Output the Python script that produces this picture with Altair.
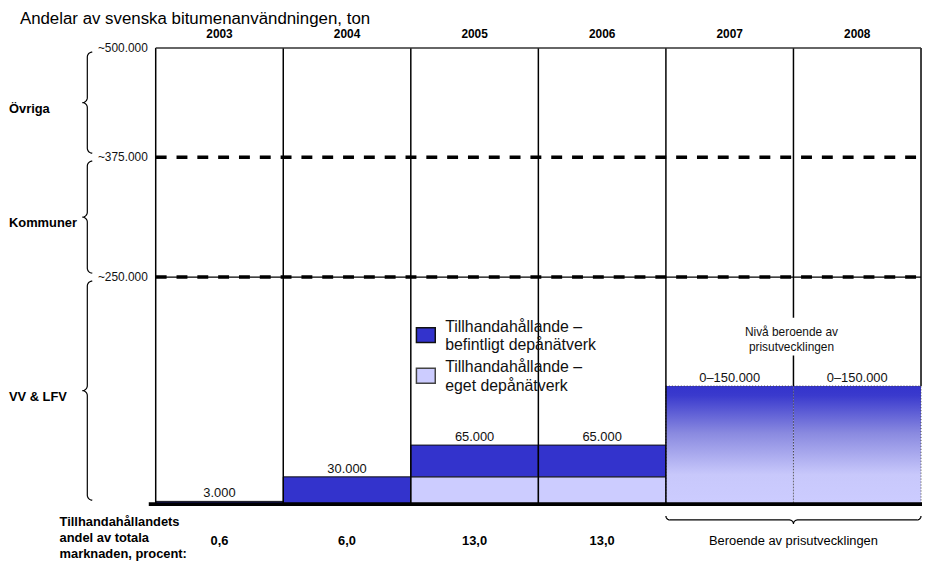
import math
import altair as alt
import pandas as pd

# ---------------- data ----------------
years = ["2003", "2004", "2005", "2006", "2007", "2008"]
befintligt = [3000, 30000, 35000, 35000]          # dark part, 2003-2006
eget = [0, 0, 30000, 30000]                        # light part, 2003-2006
total_labels = ["3.000", "30.000", "65.000", "65.000", "0–150.000", "0–150.000"]
range_years = ["2007", "2008"]
range_height = [130000, 130000]                    # visual height of the 0–150.000 bars
andel = ["0,6", "6,0", "13,0", "13,0"]
andel_range_text = "Beroende av prisutvecklingen"
level_values = [250000, 375000, 500000]
level_labels = ["~250.000", "~375.000", "~500.000"]
segments = ["VV & LFV", "Kommuner", "Övriga"]
seg_lo = [0, 250000, 375000]
seg_hi = [250000, 375000, 500000]
legend_labels = ["Tillhandahållande –\nbefintligt depånätverk",
                 "Tillhandahållande –\neget depånätverk"]
range_note = "Nivå beroende av\nprisutvecklingen"
title_text = "Andelar av svenska bitumenanvändningen, ton"
bottom_label = "Tillhandahållandets\nandel av totala\nmarknaden, procent:"

DARK = "#3333cc"
LIGHT = "#ccccff"
FONT = "Liberation Sans"

W, H = 922, 560
X_DOM, X_RNG = [0, 6], [149, 921]
Y_DOM, Y_RNG = [0, 250000, 375000, 500000], [498, 269, 148, 38]

xs = alt.Scale(domain=X_DOM, range=X_RNG, nice=False, zero=False)
ys = alt.Scale(domain=Y_DOM, range=Y_RNG, nice=False, zero=False)


def px_to_u(px):
    return X_DOM[0] + (px - X_RNG[0]) * (X_DOM[1] - X_DOM[0]) / (X_RNG[1] - X_RNG[0])


def u_to_px(u):
    return X_RNG[0] + (u - X_DOM[0]) * (X_RNG[1] - X_RNG[0]) / (X_DOM[1] - X_DOM[0])


def _seg(vals, x):
    n = len(vals)
    inc = vals[-1] > vals[0]
    for i in range(n - 1):
        a, b = vals[i], vals[i + 1]
        if min(a, b) <= x <= max(a, b):
            return i
    if (x < vals[0]) == inc:
        return 0
    return n - 2


def v_to_py(v):
    i = _seg(Y_DOM, v)
    d0, d1, r0, r1 = Y_DOM[i], Y_DOM[i + 1], Y_RNG[i], Y_RNG[i + 1]
    return r0 + (v - d0) * (r1 - r0) / (d1 - d0)


def py_to_v(py):
    i = _seg(Y_RNG, py)
    d0, d1, r0, r1 = Y_DOM[i], Y_DOM[i + 1], Y_RNG[i], Y_RNG[i + 1]
    return d0 + (py - r0) * (d1 - d0) / (r1 - r0)


def arc(cx, cy, r, a0, a1, n=8):
    pts = []
    for k in range(n + 1):
        a = math.radians(a0 + (a1 - a0) * k / n)
        pts.append((cx + r * math.cos(a), cy + r * math.sin(a)))
    return pts


def vbrace(y0, y1, xb, r):
    ym = (y0 + y1) / 2
    p = []
    p += arc(xb + r, y0 + r, r, 270, 180)
    p += arc(xb - r, ym - r, r, 0, 90)
    p += arc(xb - r, ym + r, r, -90, 0)
    p += arc(xb + r, y1 - r, r, 180, 90)
    return p


def hbrace(x0, x1, yb, r):
    xm = (x0 + x1) / 2
    p = []
    p += arc(x0 + r, yb - r, r, 180, 90)
    p += arc(xm - r, yb + r, r, -90, 0)
    p += arc(xm + r, yb + r, r, 180, 270)
    p += arc(x1 - r, yb - r, r, 90, 0)
    return p


# ---------------- tables ----------------
bar_rows = []
for i in range(4):
    if eget[i] > 0:
        bar_rows.append(dict(year=years[i], u0=i, u1=i + 1, v0=0, v1=eget[i], kind="eget"))
    bar_rows.append(dict(year=years[i], u0=i, u1=i + 1, v0=eget[i], v1=eget[i] + befintligt[i], kind="befintligt"))
bars_df = pd.DataFrame(bar_rows)

range_df = pd.DataFrame(dict(year=range_years,
                             u0=[years.index(y) for y in range_years],
                             u1=[years.index(y) + 1 for y in range_years],
                             v0=[0, 0], v1=range_height))

tops = [eget[i] + befintligt[i] for i in range(4)] + range_height
lab_df = pd.DataFrame(dict(u=[i + 0.5 for i in range(6)], v=tops, t=total_labels))
year_df = pd.DataFrame(dict(u=[i + 0.5 for i in range(6)], t=years))
andel_df = pd.DataFrame(dict(u=[i + 0.5 for i in range(4)], t=andel))

col_df = pd.DataFrame(dict(u=list(range(7)), vt=[500000] * 7,
                           vb=[0, 0, 0, 0, 0] + range_height))
top_df = pd.DataFrame(dict(u0=[0], u1=[6], v=[level_values[2]]))
dash_df = pd.DataFrame(dict(u0=[0, 0], u1=[6, 6], v=level_values[:2]))
thin_df = pd.DataFrame(dict(u0=[0], u1=[6], v=[level_values[0]]))
base_df = pd.DataFrame(dict(u0=[px_to_u(142)], u1=[6.02], v=[0]))
tick_df = pd.DataFrame(dict(u=[0] * 3, v=level_values, t=level_labels))
seg_df = pd.DataFrame(dict(v=[(a + b) / 2 for a, b in zip(seg_lo, seg_hi)], t=segments))

brace_rows = []
for s, lo, hi in zip(segments, seg_lo, seg_hi):
    pts = vbrace(v_to_py(hi) + 4, v_to_py(lo) - 4, 80, 5)
    for k, (x, y) in enumerate(pts):
        brace_rows.append(dict(b=s, o=k, u=px_to_u(x), v=py_to_v(y)))
hpts = hbrace(u_to_px(4), u_to_px(6), 514, 4)
for k, (x, y) in enumerate(hpts):
    brace_rows.append(dict(b="range", o=k, u=px_to_u(x), v=py_to_v(y)))
brace_df = pd.DataFrame(brace_rows)

X = lambda f: alt.X(f, type="quantitative", scale=xs, axis=None)
Y = lambda f: alt.Y(f, type="quantitative", scale=ys, axis=None)

# ---------------- layers ----------------
bars = alt.Chart(bars_df).mark_rect(strokeWidth=1).encode(
    x=X("u0"), x2="u1", y=Y("v0"), y2="v1",
    fill=alt.Fill("kind:N", scale=alt.Scale(domain=["befintligt", "eget"], range=[DARK, LIGHT]), legend=None),
    stroke=alt.Stroke("kind:N", scale=alt.Scale(domain=["befintligt", "eget"], range=["#111111", "#555555"]), legend=None),
)

grad = alt.Gradient(gradient="linear", x1=0, x2=0, y1=0, y2=1,
                    stops=[alt.GradientStop(color=DARK, offset=0),
                           alt.GradientStop(color="#3a3acd", offset=0.08),
                           alt.GradientStop(color="#8a8ae0", offset=0.4),
                           alt.GradientStop(color="#c8c8fb", offset=0.75),
                           alt.GradientStop(color=LIGHT, offset=1)])
range_bars = alt.Chart(range_df).mark_rect(fill=grad, stroke="#444444", strokeDash=[1, 2], strokeWidth=1).encode(
    x=X("u0"), x2="u1", y=Y("v0"), y2="v1")

cols = alt.Chart(col_df).mark_rule(color="black", strokeWidth=1.5).encode(x=X("u"), y=Y("vt"), y2="vb")
top_line = alt.Chart(top_df).mark_rule(color="#333333", strokeWidth=1.5).encode(x=X("u0"), x2="u1", y=Y("v"))
thin_line = alt.Chart(thin_df).mark_rule(color="black", strokeWidth=1.2).encode(x=X("u0"), x2="u1", y=Y("v"))
dash_lines = alt.Chart(dash_df).mark_rule(color="black", strokeWidth=3.5, strokeDash=[11, 10]).encode(
    x=X("u0"), x2="u1", y=Y("v"))
base_line = alt.Chart(base_df).mark_rule(color="black", strokeWidth=4).encode(x=X("u0"), x2="u1", y=Y("v"))

braces = alt.Chart(brace_df).mark_line(color="black", strokeWidth=1.2, interpolate="linear").encode(
    x=X("u"), y=Y("v"), detail="b:N", order="o:Q")

bar_labels = alt.Chart(lab_df).mark_text(font=FONT, fontSize=13, baseline="alphabetic", dy=-4, color="#111").encode(
    x=X("u"), y=Y("v"), text="t:N")
year_labels = alt.Chart(year_df).mark_text(font=FONT, fontSize=12, fontWeight="bold", baseline="middle").encode(
    x=X("u"), y=alt.value(24), text="t:N")
tick_labels = alt.Chart(tick_df).mark_text(font=FONT, fontSize=12, align="right", baseline="middle", dx=-8, color="#111").encode(
    x=X("u"), y=Y("v"), text="t:N")
seg_labels = alt.Chart(seg_df).mark_text(font=FONT, fontSize=13, fontWeight="bold", align="left", baseline="middle", dy=6).encode(
    x=alt.value(1), y=Y("v"), text="t:N")
andel_labels = alt.Chart(andel_df).mark_text(font=FONT, fontSize=13, fontWeight="bold", baseline="middle").encode(
    x=X("u"), y=alt.value(535), text="t:N")
andel_range = alt.Chart(pd.DataFrame(dict(u=[5], t=[andel_range_text]))).mark_text(
    font=FONT, fontSize=13, baseline="middle").encode(x=X("u"), y=alt.value(535), text="t:N")
bottom_lab = alt.Chart(pd.DataFrame(dict(t=[bottom_label]))).mark_text(
    font=FONT, fontSize=13, fontWeight="bold", align="left", baseline="alphabetic", lineBreak="\n", lineHeight=16).encode(
    x=alt.value(52), y=alt.value(520), text="t:N")
title = alt.Chart(pd.DataFrame(dict(t=[title_text]))).mark_text(
    font=FONT, fontSize=17, align="left", baseline="alphabetic").encode(
    x=alt.value(12), y=alt.value(13.5), text="t:N")

note_box = alt.Chart(pd.DataFrame(dict(a=[0]))).mark_rect(color="white").encode(
    x=alt.value(737), x2=alt.value(846), y=alt.value(310), y2=alt.value(348))
note = alt.Chart(pd.DataFrame(dict(u=[5], t=[range_note]))).mark_text(
    font=FONT, fontSize=12, baseline="alphabetic", lineBreak="\n", lineHeight=16, dx=-2, color="#111").encode(
    x=X("u"), y=alt.value(328), text="t:N")

legend_layers = []
leg_colors = [DARK, LIGHT]
leg_strokes = ["#111111", "#444444"]
for i, (lab, c, s) in enumerate(zip(legend_labels, leg_colors, leg_strokes)):
    y0 = 320 + i * 41
    legend_layers.append(
        alt.Chart(pd.DataFrame(dict(a=[i]))).mark_rect(fill=c, stroke=s, strokeWidth=1.5).encode(
            x=alt.value(412), x2=alt.value(431), y=alt.value(y0), y2=alt.value(y0 + 15)))
    legend_layers.append(
        alt.Chart(pd.DataFrame(dict(t=[lab]))).mark_text(
            font=FONT, fontSize=16, align="left", baseline="alphabetic", lineBreak="\n", lineHeight=19, color="#111").encode(
            x=alt.value(441), y=alt.value(y0 + 4), text="t:N"))

chart = alt.layer(
    bars, range_bars, cols, top_line, thin_line, dash_lines, base_line, braces,
    note_box, note, bar_labels, year_labels, tick_labels, seg_labels,
    andel_labels, andel_range, bottom_lab, title, *legend_layers
).properties(
    width=W, height=H, padding=0, autosize=alt.AutoSizeParams(type="none")
).configure_view(stroke=None)

chart.save("out.html", embed_options={"renderer": "svg", "actions": False})
